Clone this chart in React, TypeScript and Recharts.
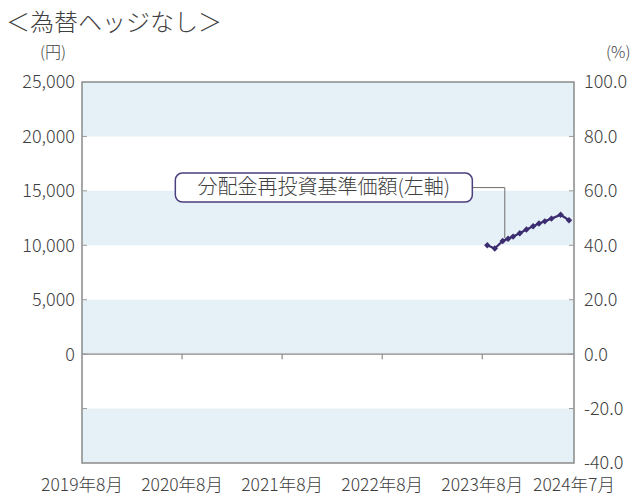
import { LineChart, Line, XAxis, YAxis, ReferenceArea, ReferenceLine, ReferenceDot } from 'recharts';

// months counted from 2019年8月
const tickMonths = [0, 12, 24, 36, 48, 59];
const tickLabels = ['2019年8月', '2020年8月', '2021年8月', '2022年8月', '2023年8月', '2024年7月'];

const leftTicks = [0, 5000, 10000, 15000, 20000, 25000];
const rightTicks = [-40, -20, 0, 20, 40, 60, 80, 100];

// 分配金再投資基準価額 (円)
const monthPos = [48.6, 49.5, 50.45, 51.1, 51.7, 52.5, 53.3, 54.1, 54.8, 55.5, 56.3, 57.4, 58.4];
const navValues = [10000, 9700, 10400, 10600, 10800, 11100, 11450, 11750, 12000, 12200, 12450, 12800, 12300];

const bands = [
  [20000, 25000],
  [10000, 15000],
  [0, 5000],
  [-10000, -5000],
];
const gridTicks = [-5000, 0, 5000, 10000, 15000, 20000];

const data = monthPos.map((m, i) => ({ m, nav: navValues[i] }));

const FONT = '"Noto Sans CJK JP", "Noto Sans", sans-serif';
const TEXT = '#404040';
const LINE = '#3b2d70';

const Diamond = (props: any) => {
  const { cx, cy } = props;
  if (cx == null || cy == null) return null;
  const r = 3.2;
  return (
    <polygon
      points={`${cx},${cy - r} ${cx + r},${cy} ${cx},${cy + r} ${cx - r},${cy}`}
      fill={LINE}
    />
  );
};

const LabelBox = (props: any) => {
  const { cx, cy } = props;
  const w = 297;
  const h = 29;
  return (
    <g>
      <rect x={cx - w / 2} y={cy - h / 2} width={w} height={h} rx={7} fill="#fff" stroke="#4b3f7e" strokeWidth={1.5} />
      <text x={cx} y={cy + 1} textAnchor="middle" dominantBaseline="middle" fontSize={20} fontWeight={300} fill={TEXT} fontFamily={FONT}>
        分配金再投資基準価額(左軸)
      </text>
    </g>
  );
};

const tickStyle = { fontSize: 18, fill: TEXT, fontFamily: FONT, fontWeight: 300 };

export default function App() {
  return (
    <div style={{ position: 'absolute', left: 0, top: 0, width: 640, height: 501, background: '#fff', fontFamily: FONT }}>
      <div style={{ position: 'absolute', left: 6, top: 3, fontSize: 24, fontWeight: 300, color: TEXT }}>＜為替ヘッジなし＞</div>
      <div style={{ position: 'absolute', left: 40, top: 41, fontSize: 16, lineHeight: '20px', fontWeight: 300, color: TEXT }}>(円)</div>
      <div style={{ position: 'absolute', left: 606, top: 41, fontSize: 16, lineHeight: '20px', fontWeight: 300, color: TEXT }}>(%)</div>
      <LineChart width={640} height={501} data={data} margin={{ top: 82, right: 0, bottom: 0, left: 0 }}>
        <XAxis
          dataKey="m"
          type="number"
          domain={[0, 59]}
          ticks={tickMonths}
          tickFormatter={(v: number) => tickLabels[tickMonths.indexOf(v)] ?? ''}
          axisLine={false}
          tickLine={false}
          tickSize={6}
          tickMargin={10}
          height={38}
          interval={0}
          tick={{ ...tickStyle, fontSize: 17.5 }}
        />
        <YAxis
          yAxisId="left"
          domain={[-10000, 25000]}
          ticks={leftTicks}
          tickFormatter={(v: number) => v.toLocaleString('en-US')}
          axisLine={false}
          tickLine={false}
          tickSize={5}
          tickMargin={2}
          width={82}
          interval={0}
          tick={tickStyle}
        />
        <YAxis
          yAxisId="right"
          orientation="right"
          type="number"
          domain={[-40, 100]}
          allowDataOverflow
          ticks={rightTicks}
          tickFormatter={(v: number) => Number(v).toFixed(1)}
          axisLine={false}
          tickLine={false}
          tickSize={6}
          tickMargin={4}
          width={66}
          interval={0}
          tick={tickStyle}
        />
        {bands.map(([y1, y2], i) => (
          <ReferenceArea key={`band-${i}`} yAxisId="left" x1={0} x2={59} y1={y1} y2={y2} fill="#e5f1f6" fillOpacity={1} stroke="none" ifOverflow="visible" />
        ))}
        <ReferenceLine yAxisId="left" y={0} stroke="#8a8a8a" strokeWidth={1.3} />
        {tickMonths.slice(1, 5).map((m) => (
          <ReferenceLine
            key={`xt-${m}`}
            yAxisId="left"
            segment={[{ x: m, y: 0 }, { x: m, y: -480 }]}
            stroke="#8a8a8a"
            strokeWidth={1.2}
            ifOverflow="visible"
          />
        ))}
        {gridTicks.map((v) => (
          <ReferenceLine
            key={`lt-${v}`}
            yAxisId="left"
            segment={[{ x: 0, y: v }, { x: 0.6, y: v }]}
            stroke="#9a9a9a"
            strokeWidth={1}
            ifOverflow="visible"
          />
        ))}
        {gridTicks.map((v) => (
          <ReferenceLine
            key={`rt-${v}`}
            yAxisId="left"
            segment={[{ x: 58.4, y: v }, { x: 59, y: v }]}
            stroke="#9a9a9a"
            strokeWidth={1}
            ifOverflow="visible"
          />
        ))}
        <ReferenceArea yAxisId="left" x1={0} x2={59} y1={-10000} y2={25000} fill="none" stroke="#8a8a8a" strokeWidth={1.5} ifOverflow="visible" />
        <ReferenceLine
          yAxisId="left"
          segment={[{ x: 46.8, y: 15300 }, { x: 50.7, y: 15300 }]}
          stroke="#6e6e6e"
          strokeWidth={1}
          ifOverflow="visible"
        />
        <ReferenceLine
          yAxisId="left"
          segment={[{ x: 50.7, y: 15300 }, { x: 50.7, y: 10650 }]}
          stroke="#6e6e6e"
          strokeWidth={1}
          ifOverflow="visible"
        />
        <ReferenceDot yAxisId="left" x={29} y={15300} r={0} ifOverflow="visible" shape={(p: any) => <LabelBox {...p} />} />
        <Line
          yAxisId="right"
          dataKey="none"
          stroke="none"
          dot={false}
          activeDot={false}
          legendType="none"
          isAnimationActive={false}
        />
        <Line
          yAxisId="left"
          type="linear"
          dataKey="nav"
          stroke={LINE}
          strokeWidth={2.2}
          dot={(p: any) => <Diamond key={`d-${p.index}`} {...p} />}
          activeDot={false}
          isAnimationActive={false}
        />
      </LineChart>
    </div>
  );
}
